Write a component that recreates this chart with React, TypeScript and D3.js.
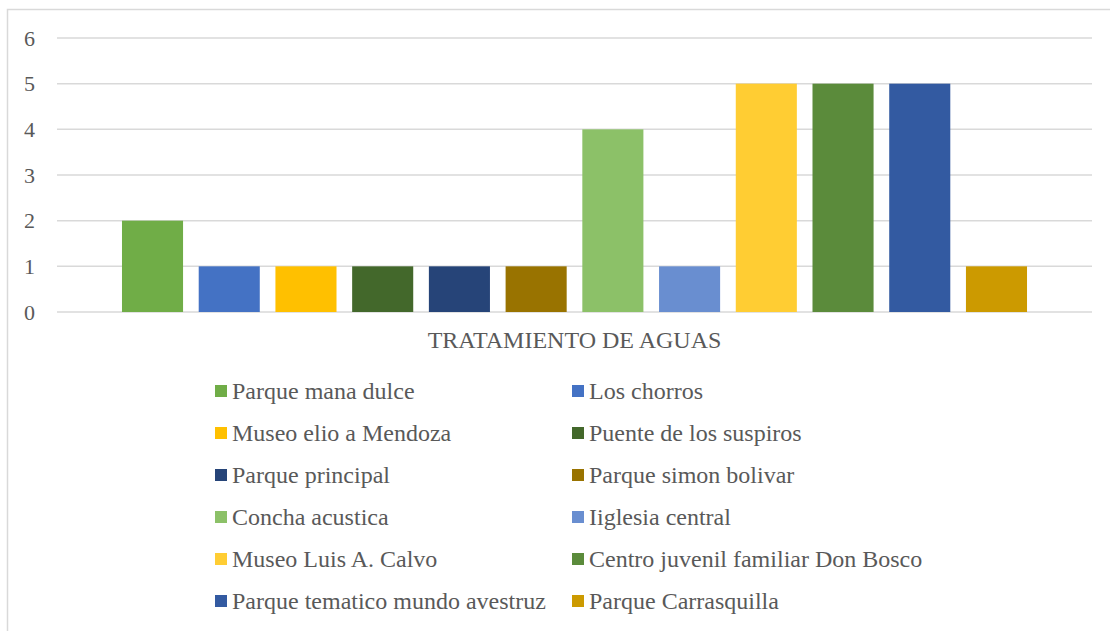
import React from 'react';
import * as d3 from 'd3';

const category = 'TRATAMIENTO DE AGUAS';

const seriesNames = [
  'Parque mana dulce',
  'Los chorros',
  'Museo elio a Mendoza',
  'Puente de los suspiros',
  'Parque principal',
  'Parque simon bolivar',
  'Concha acustica',
  'Iiglesia central',
  'Museo Luis A. Calvo',
  'Centro juvenil familiar Don Bosco',
  'Parque tematico mundo avestruz',
  'Parque Carrasquilla',
];

const seriesValues = [2, 1, 1, 1, 1, 1, 4, 1, 5, 5, 5, 1];

const seriesColors = [
  '#70AD47',
  '#4472C4',
  '#FFC000',
  '#43682B',
  '#264478',
  '#997300',
  '#8CC168',
  '#698ED0',
  '#FFCD33',
  '#5B8B3B',
  '#335AA1',
  '#CC9A00',
];

const yTicks = [0, 1, 2, 3, 4, 5, 6];

const W = 1110;
const H = 631;
const FONT = "'Liberation Serif', 'Times New Roman', serif";
const TEXT = '#595959';
const GRID = '#D9D9D9';

export default function App() {
  const plot = { left: 57, right: 1092, top: 38, bottom: 312 };

  const y = d3.scaleLinear().domain([0, 6]).range([plot.bottom, plot.top]);

  // one category spanning the plot, series bars inside it
  const xCat = d3.scaleBand<string>().domain([category]).range([plot.left, plot.right]).paddingOuter(0.0718);
  const catStart = xCat(category) ?? plot.left;
  const xSeries = d3
    .scaleBand<string>()
    .domain(seriesNames)
    .range([catStart, catStart + xCat.bandwidth()])
    .paddingInner(0.204)
    .paddingOuter(0);

  const legendCols = [215, 572];
  const legendRowY = (i: number) => 391 + i * 42;

  return (
    <svg
      width={W}
      height={H}
      style={{ position: 'absolute', left: 0, top: 0, display: 'block', background: '#fff' }}
    >
      <rect x={7.5} y={9.5} width={W} height={H} fill="#fff" stroke={GRID} strokeWidth={1.5} />

      {/* gridlines + y ticks */}
      {yTicks.map((t) => (
        <g key={t}>
          <line x1={plot.left} x2={plot.right} y1={y(t)} y2={y(t)} stroke={GRID} strokeWidth={1.5} />
          <text x={35} y={y(t)} dy="0.35em" textAnchor="end" fontSize={22} fill={TEXT} style={{ fontFamily: FONT }}>
            {t}
          </text>
        </g>
      ))}

      {/* bars */}
      {seriesNames.map((name, i) => (
        <rect
          key={name}
          x={xSeries(name)}
          y={y(seriesValues[i])}
          width={xSeries.bandwidth()}
          height={y(0) - y(seriesValues[i])}
          fill={seriesColors[i]}
        />
      ))}

      <text
        x={catStart + xCat.bandwidth() / 2}
        y={340}
        dy="0.35em"
        textAnchor="middle"
        fontSize={24}
        fill={TEXT}
        style={{ fontFamily: FONT }}
      >
        {category}
      </text>

      {/* legend */}
      {seriesNames.map((name, i) => {
        const col = i % 2;
        const row = Math.floor(i / 2);
        const cx = legendCols[col];
        const cy = legendRowY(row);
        return (
          <g key={name}>
            <rect x={cx} y={cy - 6} width={12} height={12} fill={seriesColors[i]} />
            <text x={cx + 17} y={cy} dy="0.35em" fontSize={24} fill={TEXT} style={{ fontFamily: FONT }}>
              {name}
            </text>
          </g>
        );
      })}
    </svg>
  );
}
